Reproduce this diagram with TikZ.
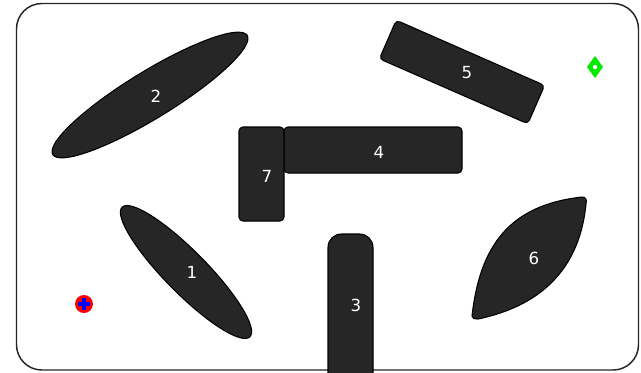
\documentclass[tikz,border=0pt]{standalone}
\usepackage{fontspec}
\setmainfont{DejaVu Sans}
\definecolor{blobgray}{RGB}{38,38,38}
\definecolor{markgreen}{RGB}{0,235,0}
\begin{document}
\begin{tikzpicture}[x=0.75pt,y=-0.75pt,
  blob/.style={fill=blobgray,draw=black,line width=0.8pt},
  lbl/.style={text=white,font=\fontsize{12.5}{14}\selectfont,inner sep=0pt},
  frame/.style={draw=black!85,line width=1.1pt,rounded corners=19pt}]
\useasboundingbox (0,0) rectangle (641,372);
\clip (0,0) rectangle (641,372);
\fill[white] (0,0) rectangle (641,372);
\draw[frame] (16.5,3.5) rectangle (638.5,370);
% 1
\draw[blob,rotate around={-45.4:(186,272)}] (186,272) ellipse (91 and 21);
\node[lbl] (n1) at (192,272) {1};
% 2
\draw[blob,rotate around={31.5:(150,95)}] (150,95) ellipse (114 and 23.5);
\node[lbl] (n2) at (156,96) {2};
% 3
\draw[blob,rounded corners=10pt] (328,234) rectangle (373,395);
\node[lbl] (n3) at (356,305) {3};
% 4
\draw[blob,rounded corners=3pt] (284,127) rectangle (462,173);
\node[lbl] (n4) at (379,152) {4};
% 7
\draw[blob,rounded corners=3pt] (239,127) rectangle (284,221);
\node[lbl] (n7) at (267,176) {7};
% 5
\draw[blob,rounded corners=3pt] (396.2,20.2) -- (544.6,85.4) -- (527.8,123.8) -- (379.4,58.8) -- cycle;
\node[lbl] (n5) at (467,73) {5};
% 6
\draw[blob] (472,316) .. controls (480,245) and (510,205) .. (582,197)
  .. controls (586,197) and (587,200) .. (586,204)
  .. controls (580,265) and (545,305) .. (478,319)
  .. controls (474,319) and (472,318) .. (472,316) -- cycle;
\node[lbl] (n6) at (534,258) {6};
% green diamond
\fill[markgreen] (595,56) -- (603,67) -- (595,78) -- (587,67) -- cycle;
\fill[white] (595,67) circle (2.2);
% red/blue marker
\fill[red] (84,304) circle (9);
\draw[blue,line width=3pt] (78,304) -- (90,304) (84,298) -- (84,310);
\end{tikzpicture}
\end{document}
